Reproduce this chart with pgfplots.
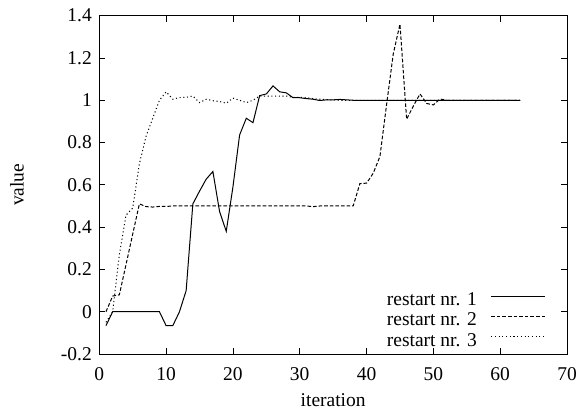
\documentclass[border=0pt]{standalone}
\usepackage{fontspec}
\setmainfont{Liberation Serif}
\usepackage{pgfplots}
\pgfplotsset{compat=1.18}
\begin{document}
\begin{tikzpicture}
\useasboundingbox (-99.3pt,-59pt) rectangle (477.7pt,354pt);
\begin{axis}[
  at={(0pt,0pt)}, anchor=south west,
  scale only axis,
  width=467.7pt, height=338.3pt,
  xmin=0, xmax=70, ymin=-0.2, ymax=1.4,
  xtick={0,10,...,70},
  ytick={-0.2,0,0.2,0.4,0.6,0.8,1,1.2,1.4},
  yticklabels={-0.2,0,0.2,0.4,0.6,0.8,1,1.2,1.4},
  /pgf/number format/assume math mode=true,
  font=\fontsize{19.5pt}{23pt}\selectfont,
  tick align=inside,
  xtick pos=both, ytick pos=both,
  major tick length=6pt,
  axis line style={line width=0.8pt},
  every tick/.style={line width=0.8pt, black},
  yticklabel style={xshift=-4pt},
  xticklabel style={yshift=-10pt},
  xlabel={iteration},
  ylabel={value},
  every axis x label/.style={at={(axis description cs:0.5,-0.136)}, anchor=center},
  every axis y label/.style={at={(axis description cs:-0.176,0.5)}, anchor=center, rotate=90},
  legend plot pos=right,
  legend cell align=right,
  legend image code/.code={\draw[#1] (0pt,5pt) -- (54pt,5pt);},
  legend style={draw=none, fill=none, inner sep=0pt,
    nodes={inner sep=0pt, text height=12pt, text depth=3.3pt},
    row sep=5pt, column sep=14pt,
    at={(axis cs:66.85,-0.179)}, anchor=south east,
    font=\fontsize{19.5pt}{23pt}\selectfont},
]
\addplot[black, line width=1pt] coordinates {
(1,-0.066)(2,0)(3,0)(4,0)(5,0)(6,0)(7,0)(8,0)(9,0)(10,-0.066)
(11,-0.066)(12,0)(13,0.10)(14,0.51)(15,0.57)(16,0.627)(17,0.663)(18,0.474)(19,0.38)(20,0.59)
(21,0.836)(22,0.915)(23,0.894)(24,1.022)(25,1.03)(26,1.068)(27,1.04)(28,1.035)(29,1.012)(30,1.012)
(31,1.008)(32,1.005)(33,0.999)(34,1.002)(35,1.002)(36,1.004)(37,1.002)(38,1.0)(39,1.0)(40,1.0)
(41,1.0)(42,1.0)(43,1.0)(44,1.0)(45,1.0)(46,1.0)(47,1.0)(48,1.0)(49,1.0)(50,1.0)
(51,1.0)(52,1.0)(53,1.0)(54,1.0)(55,1.0)(56,1.0)(57,1.0)(58,1.0)(59,1.0)(60,1.0)
(61,1.0)(62,1.0)(63,1.0)
};
\addlegendentry{restart nr. 1}
\addplot[black, line width=1pt, dash pattern=on 3.6pt off 2pt] coordinates {
(1,0)(2,0.074)(3,0.08)(4,0.223)(5,0.367)(6,0.51)(7,0.497)(8,0.495)(9,0.498)(10,0.498)
(11,0.5)(12,0.5)(13,0.5)(14,0.5)(15,0.5)(16,0.5)(17,0.5)(18,0.5)(19,0.5)(20,0.5)
(21,0.5)(22,0.5)(23,0.5)(24,0.5)(25,0.5)(26,0.5)(27,0.5)(28,0.5)(29,0.5)(30,0.5)
(31,0.5)(32,0.497)(33,0.5)(34,0.5)(35,0.5)(36,0.5)(37,0.5)(38,0.5)(39,0.606)(40,0.608)
(41,0.655)(42,0.734)(43,0.98)(44,1.22)(45,1.36)(46,0.91)(47,0.973)(48,1.03)(49,0.985)(50,0.978)
(51,1.006)(52,1.0)(53,1.0)(54,1.0)(55,1.0)(56,1.0)(57,1.0)(58,1.0)(59,1.0)(60,1.0)
(61,1.0)(62,1.0)(63,1.0)
};
\addlegendentry{restart nr. 2}
\addplot[black, line width=1pt, dash pattern=on 1.1pt off 2.6pt] coordinates {
(1,-0.05)(2,0.0)(3,0.27)(4,0.457)(5,0.49)(6,0.70)(7,0.83)(8,0.915)(9,1.0)(10,1.04)
(11,1.005)(12,1.013)(13,1.014)(14,1.02)(15,0.989)(16,1.005)(17,0.998)(18,0.994)(19,0.986)(20,1.01)
(21,1.0)(22,0.989)(23,1.0)(24,1.02)(25,1.02)(26,1.02)(27,1.02)(28,1.02)(29,1.014)(30,1.014)
(31,1.012)(32,1.008)(33,1.005)(34,1.003)(35,1.002)(36,1.0)(37,1.0)(38,1.0)(39,1.0)(40,1.0)
(41,1.0)(42,1.0)(43,1.0)(44,1.0)(45,1.0)(46,1.0)(47,1.0)(48,1.0)(49,1.0)(50,1.0)
(51,1.0)(52,1.0)(53,1.0)(54,1.0)(55,1.0)(56,1.0)(57,1.0)(58,1.0)(59,1.0)(60,1.0)
(61,1.0)(62,1.0)(63,1.0)
};
\addlegendentry{restart nr. 3}
\end{axis}
\end{tikzpicture}
\end{document}
